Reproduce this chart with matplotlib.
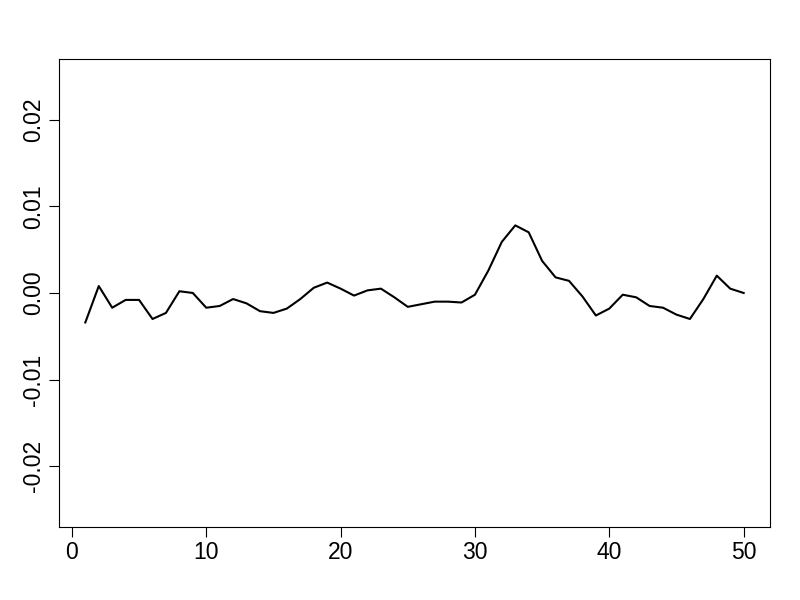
import matplotlib
matplotlib.use("Agg")
import matplotlib.pyplot as plt

x = list(range(1, 51))
y = [-0.0034, 0.0008, -0.0017, -0.0008, -0.0008, -0.0030, -0.0023, 0.0002, 0.0000, -0.0017,
     -0.0015, -0.0007, -0.0012, -0.0021, -0.0023, -0.0018, -0.0007, 0.0006, 0.0012, 0.0005,
     -0.0003, 0.0003, 0.0005, -0.0005, -0.0016, -0.0013, -0.0010, -0.0010, -0.0011, -0.0002,
     0.0026, 0.0059, 0.0078, 0.0070, 0.0037, 0.0018, 0.0014, -0.0004, -0.0026, -0.0018,
     -0.0002, -0.0005, -0.0015, -0.0017, -0.0025, -0.0030, -0.0007, 0.0020, 0.0005, 0.0000]
xticks = [0, 10, 20, 30, 40, 50]
yticks = [-0.02, -0.01, 0.00, 0.01, 0.02]
ytick_labels = ["-0.02", "-0.01", "0.00", "0.01", "0.02"]

plt.rcParams['font.family'] = ['Liberation Sans', 'DejaVu Sans']
fig = plt.figure(figsize=(8, 6), dpi=100)
ax = fig.add_axes([0.07375, 0.1217, 0.88875, 0.78])
ax.plot(x, y, color='black', linewidth=1.5)
ax.set_xlim(-0.96, 51.96)
ax.set_ylim(-0.027, 0.027)
ax.set_xticks(xticks)
ax.set_xticklabels([str(t) for t in xticks])
ax.set_yticks(yticks)
ax.set_yticklabels(ytick_labels, rotation=90, va='center')
for s in ax.spines.values():
    s.set_linewidth(0.8)
ax.tick_params(axis='both', direction='out', length=7, width=0.8, labelsize=16.5)
ax.tick_params(axis='x', pad=3)
ax.tick_params(axis='y', pad=3)
fig.savefig("out.png", dpi=100)
